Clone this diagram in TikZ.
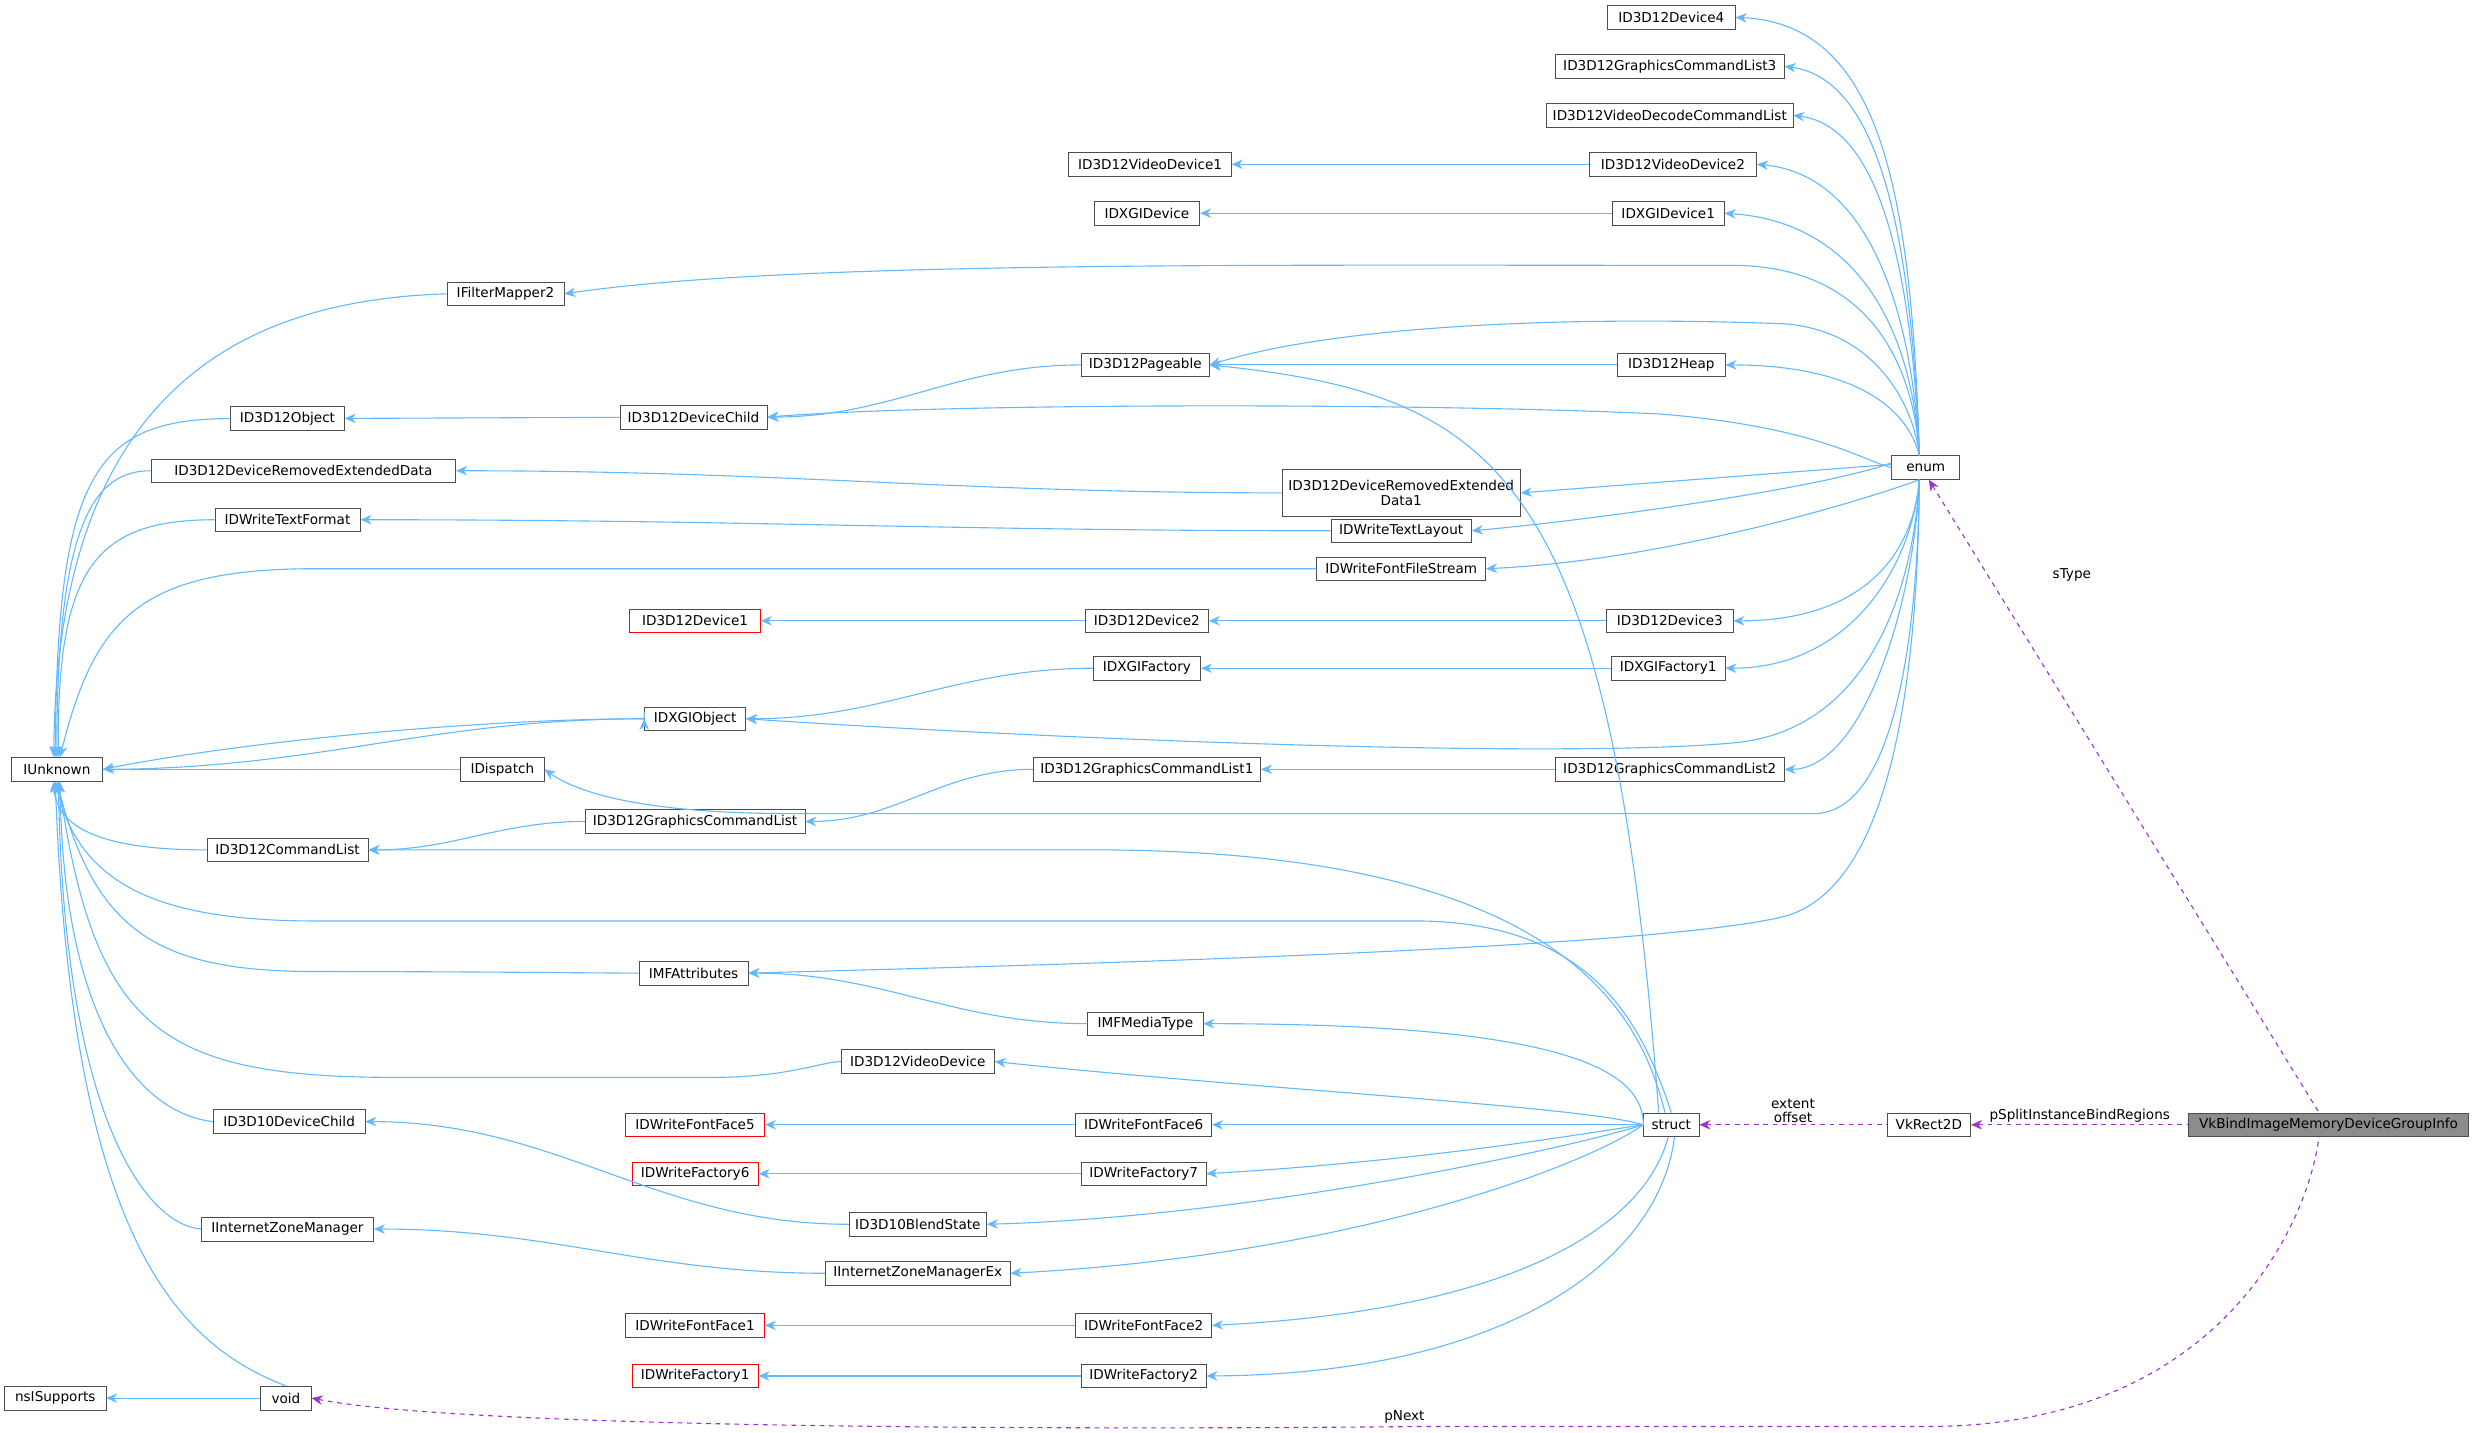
\documentclass[tikz,border=0pt]{standalone}
\usepackage{fontspec}
\setmainfont{DejaVu Sans}
\usetikzlibrary{arrows.meta}
\definecolor{eb}{RGB}{99,184,255}
\definecolor{ep}{RGB}{154,50,205}
\begin{document}
\begin{tikzpicture}[x=1pt,y=-1pt,
 box/.style={draw=black!70,fill=white,font=\fontsize{8.6}{9.5}\selectfont,inner sep=0pt,minimum height=15pt,align=center},
 red/.style={box,draw=red},
 inh/.style={draw=eb,line width=0.7pt,{Stealth[length=7pt,width=6pt]}-},
 mem/.style={draw=ep,line width=0.7pt,dashed,{Stealth[length=7pt,width=6pt]}-},
 lbl/.style={font=\fontsize{8.6}{9.5}\selectfont,inner sep=1pt}]
\useasboundingbox (0,0) rectangle (1568,907);
% nodes
\node[box,minimum width=81] (d4) at (1058,11) {ID3D12Device4};
\node[box,minimum width=145] (gcl3) at (1057,42) {ID3D12GraphicsCommandList3};
\node[box,minimum width=156] (vdcl) at (1057,73) {ID3D12VideoDecodeCommandList};
\node[box,minimum width=103] (vd1) at (728,104) {ID3D12VideoDevice1};
\node[box,minimum width=106] (vd2) at (1059,104) {ID3D12VideoDevice2};
\node[box,minimum width=67] (dxd) at (726,135) {IDXGIDevice};
\node[box,minimum width=71] (dxd1) at (1056,135) {IDXGIDevice1};
\node[box,minimum width=74] (fm2) at (320,186) {IFilterMapper2};
\node[box,minimum width=81] (pag) at (725,231) {ID3D12Pageable};
\node[box,minimum width=68] (heap) at (1058,231) {ID3D12Heap};
\node[box,minimum width=72] (obj) at (182,265) {ID3D12Object};
\node[box,minimum width=93] (dc) at (439,264) {ID3D12DeviceChild};
\node[box,minimum width=43] (enum) at (1219,296) {enum};
\node[box,minimum width=193] (dred) at (192,298) {ID3D12DeviceRemovedExtendedData};
\node[box,minimum width=151,minimum height=30] (dred1) at (887,312) {ID3D12DeviceRemovedExtended\\Data1};
\node[box,minimum width=92] (tf) at (182,329) {IDWriteTextFormat};
\node[box,minimum width=89] (tl) at (887,336) {IDWriteTextLayout};
\node[box,minimum width=107] (ffs) at (887,360) {IDWriteFontFileStream};
\node[red,minimum width=83] (dev1) at (440,393) {ID3D12Device1};
\node[box,minimum width=78] (dev2) at (726,393) {ID3D12Device2};
\node[box,minimum width=80] (dev3) at (1057,393) {ID3D12Device3};
\node[box,minimum width=68] (fac) at (726,423) {IDXGIFactory};
\node[box,minimum width=72] (fac1) at (1056,423) {IDXGIFactory1};
\node[box,minimum width=64] (dxo) at (440,455) {IDXGIObject};
\node[box,minimum width=58] (iu) at (36,487) {IUnknown};
\node[box,minimum width=53] (disp) at (318,487) {IDispatch};
\node[box,minimum width=144] (gcl1) at (726,487) {ID3D12GraphicsCommandList1};
\node[box,minimum width=145] (gcl2) at (1057,487) {ID3D12GraphicsCommandList2};
\node[box,minimum width=139] (gcl) at (440,520) {ID3D12GraphicsCommandList};
\node[box,minimum width=102] (cl) at (182,538) {ID3D12CommandList};
\node[box,minimum width=69] (mfa) at (439,616) {IMFAttributes};
\node[box,minimum width=73] (mft) at (725,648) {IMFMediaType};
\node[box,minimum width=97] (vd) at (581,672) {ID3D12VideoDevice};
\node[red,minimum width=88] (ff5) at (440,712) {IDWriteFontFace5};
\node[box,minimum width=86] (ff6) at (724,712) {IDWriteFontFace6};
\node[box,minimum width=35] (st) at (1058,712) {struct};
\node[box,minimum width=53] (vk) at (1221,712) {VkRect2D};
\node[box,minimum width=177,fill=black!45] (vb) at (1474,712) {VkBindImageMemoryDeviceGroupInfo};
\node[box,minimum width=96] (d10) at (183,710) {ID3D10DeviceChild};
\node[red,minimum width=80] (f6) at (440,743) {IDWriteFactory6};
\node[box,minimum width=79] (f7) at (724,743) {IDWriteFactory7};
\node[box,minimum width=87] (bs) at (581,775) {ID3D10BlendState};
\node[box,minimum width=109] (izm) at (182,778) {IInternetZoneManager};
\node[box,minimum width=117] (izme) at (581,806) {IInternetZoneManagerEx};
\node[red,minimum width=88] (ff1) at (440,839) {IDWriteFontFace1};
\node[box,minimum width=86] (ff2) at (724,839) {IDWriteFontFace2};
\node[red,minimum width=80] (f1) at (440,871) {IDWriteFactory1};
\node[box,minimum width=79] (f2) at (724,871) {IDWriteFactory2};
\node[box,minimum width=64] (ns) at (35,885) {nsISupports};
\node[box,minimum width=32] (void) at (181,885) {void};
% straight edges
\draw[inh] (vd1) -- (vd2);
\draw[inh] (dxd) -- (dxd1);
\draw[inh] (pag) -- (heap);
\draw[inh] (dev1) -- (dev2);
\draw[inh] (dev2) -- (dev3);
\draw[inh] (fac) -- (fac1);
\draw[inh] (gcl1) -- (gcl2);
\draw[inh] (iu) -- (disp);
\draw[inh] (obj) -- (dc);
\draw[inh] (ff5) -- (ff6);
\draw[inh] (f6) -- (f7);
\draw[inh] (ff1) -- (ff2);
\draw[inh] (f1) -- (f2);
\draw[inh] (ns) -- (void);
\draw[inh] (dc.east) to[out=0,in=180] (pag.west);
\draw[inh] (dred.east) to[out=0,in=180] (dred1.west);
\draw[inh] (tf.east) to[out=0,in=180] (tl.west);
\draw[inh] (dxo.east) to[out=0,in=180] (fac.west);
\draw[inh] (gcl.east) to[out=0,in=180] (gcl1.west);
\draw[inh] (cl.east) to[out=0,in=180] (gcl.west);
\draw[inh] (dxo.west) -- ++(0,0) to[out=180,in=0] (iu.east);
\draw[inh] (mfa.east) to[out=0,in=180] (mft.west);
\draw[inh] (d10.east) to[out=0,in=180] (bs.west);
\draw[inh] (izm.east) to[out=0,in=180] (izme.west);
% to IUnknown (above)
\draw[inh] ([xshift=-2]iu.north) .. controls (36,250) and (150,190) .. (fm2.west);
\draw[inh] ([xshift=-1]iu.north) .. controls (36,300) and (60,265) .. (obj.west);
\draw[inh] (iu.north) .. controls (36,330) and (60,298) .. (dred.west);
\draw[inh] ([xshift=1]iu.north) .. controls (36,360) and (60,329) .. (tf.west);
\draw[inh] ([xshift=2]iu.north) .. controls (60,390) and (90,360) .. (200,360) -- (ffs.west);
\draw[inh] (iu.east) .. controls (150,470) and (300,455) .. (dxo.west);
% to IUnknown (below)
\draw[inh] ([xshift=-2]iu.south) .. controls (36,530) and (80,538) .. (cl.west);
\draw[inh] ([xshift=-1]iu.south) .. controls (50,560) and (100,583) .. (200,583) -- (900,583) .. controls (1010,585) and (1040,650) .. (st.north);
\draw[inh] (iu.south) .. controls (60,590) and (100,615) .. (200,615) .. controls (300,615) and (380,616) .. (mfa.west);
\draw[inh] ([xshift=1]iu.south) .. controls (60,650) and (100,682) .. (250,682) -- (450,682) .. controls (500,682) and (520,672) .. (vd.west);
\draw[inh] ([xshift=2]iu.south) .. controls (40,650) and (90,705) .. (d10.west);
\draw[inh] ([xshift=1]iu.south) .. controls (40,700) and (90,775) .. (izm.west);
\draw[inh] ([xshift=-1]iu.south) .. controls (45,780) and (110,850) .. (void.north);
% to enum
\draw[inh] (d4.east) .. controls (1190,15) and (1210,120) .. ([xshift=-4]enum.north);
\draw[inh] (gcl3.east) .. controls (1190,50) and (1210,150) .. ([xshift=-4]enum.north);
\draw[inh] (vdcl.east) .. controls (1190,80) and (1210,170) .. ([xshift=-4]enum.north);
\draw[inh] (vd2.east) .. controls (1180,110) and (1210,190) .. ([xshift=-4]enum.north);
\draw[inh] (dxd1.east) .. controls (1170,140) and (1210,200) .. ([xshift=-4]enum.north);
\draw[inh] (fm2.east) .. controls (500,165) and (800,168) .. (1100,168) .. controls (1190,170) and (1212,240) .. ([xshift=-4]enum.north);
\draw[inh] (pag.east) .. controls (850,205) and (1000,200) .. (1130,205) .. controls (1190,210) and (1212,260) .. ([xshift=-4]enum.north);
\draw[inh] (heap.east) .. controls (1160,231) and (1205,250) .. ([xshift=-4]enum.north);
\draw[inh] (dc.east) .. controls (600,255) and (900,255) .. (1050,262) .. controls (1150,270) and (1180,292) .. (enum.west);
\draw[inh] (dred1.east) -- ([yshift=2]enum.west);
\draw[inh] (tl.east) .. controls (1000,330) and (1150,310) .. ([yshift=3]enum.west);
\draw[inh] (ffs.east) .. controls (1050,355) and (1170,320) .. ([xshift=-4]enum.south);
\draw[inh] (dev3.east) .. controls (1170,393) and (1210,360) .. ([xshift=-4]enum.south);
\draw[inh] (fac1.east) .. controls (1170,423) and (1210,360) .. ([xshift=-4]enum.south);
\draw[inh] (dxo.east) .. controls (700,470) and (1000,480) .. (1100,470) .. controls (1190,460) and (1212,360) .. ([xshift=-4]enum.south);
\draw[inh] (gcl2.east) .. controls (1180,487) and (1212,380) .. ([xshift=-4]enum.south);
\draw[inh] (disp.east) .. controls (370,505) and (420,515) .. (500,515) -- (1150,515) .. controls (1200,512) and (1214,400) .. ([xshift=-4]enum.south);
\draw[inh] (mfa.east) .. controls (700,610) and (1050,600) .. (1130,580) .. controls (1200,560) and (1214,420) .. ([xshift=-4]enum.south);
% to struct
\draw[inh] (pag.east) .. controls (950,250) and (1020,300) .. ([xshift=-8]st.north);
\draw[inh] (cl.east) -- (700,538) .. controls (1000,540) and (1040,650) .. ([xshift=-4]st.north);
\draw[inh] (mft.east) .. controls (1000,648) and (1040,680) .. (st.west);
\draw[inh] (vd.east) .. controls (800,690) and (1000,700) .. (st.west);
\draw[inh] (ff6.east) -- (st.west);
\draw[inh] (f7.east) .. controls (900,735) and (1000,718) .. (st.west);
\draw[inh] (bs.east) .. controls (800,770) and (1000,725) .. (st.west);
\draw[inh] (izme.east) .. controls (850,795) and (1000,740) .. (st.west);
\draw[inh] (ff2.east) .. controls (950,830) and (1040,780) .. ([xshift=-2]st.south);
\draw[inh] (f2.east) .. controls (950,870) and (1050,800) .. ([xshift=2]st.south);
% member edges
\draw[mem] (st.east) -- node[lbl,above,align=center,font=\fontsize{8.6}{9}\selectfont]{extent\\offset} (vk.west);
\draw[mem] (vk.east) -- node[lbl,above]{pSplitInstanceBindRegions} (vb.west);
\draw[mem] ([xshift=2]enum.south) -- node[lbl,pos=0.15,right=40pt]{sType} ([xshift=-6]vb.north);
\draw[mem] (void.east) .. controls (300,905) and (700,905) .. (900,903) -- (1220,903) .. controls (1400,903) and (1460,780) .. ([xshift=-6]vb.south);
\node[lbl] at (889,897) {pNext};
\end{tikzpicture}
\end{document}
